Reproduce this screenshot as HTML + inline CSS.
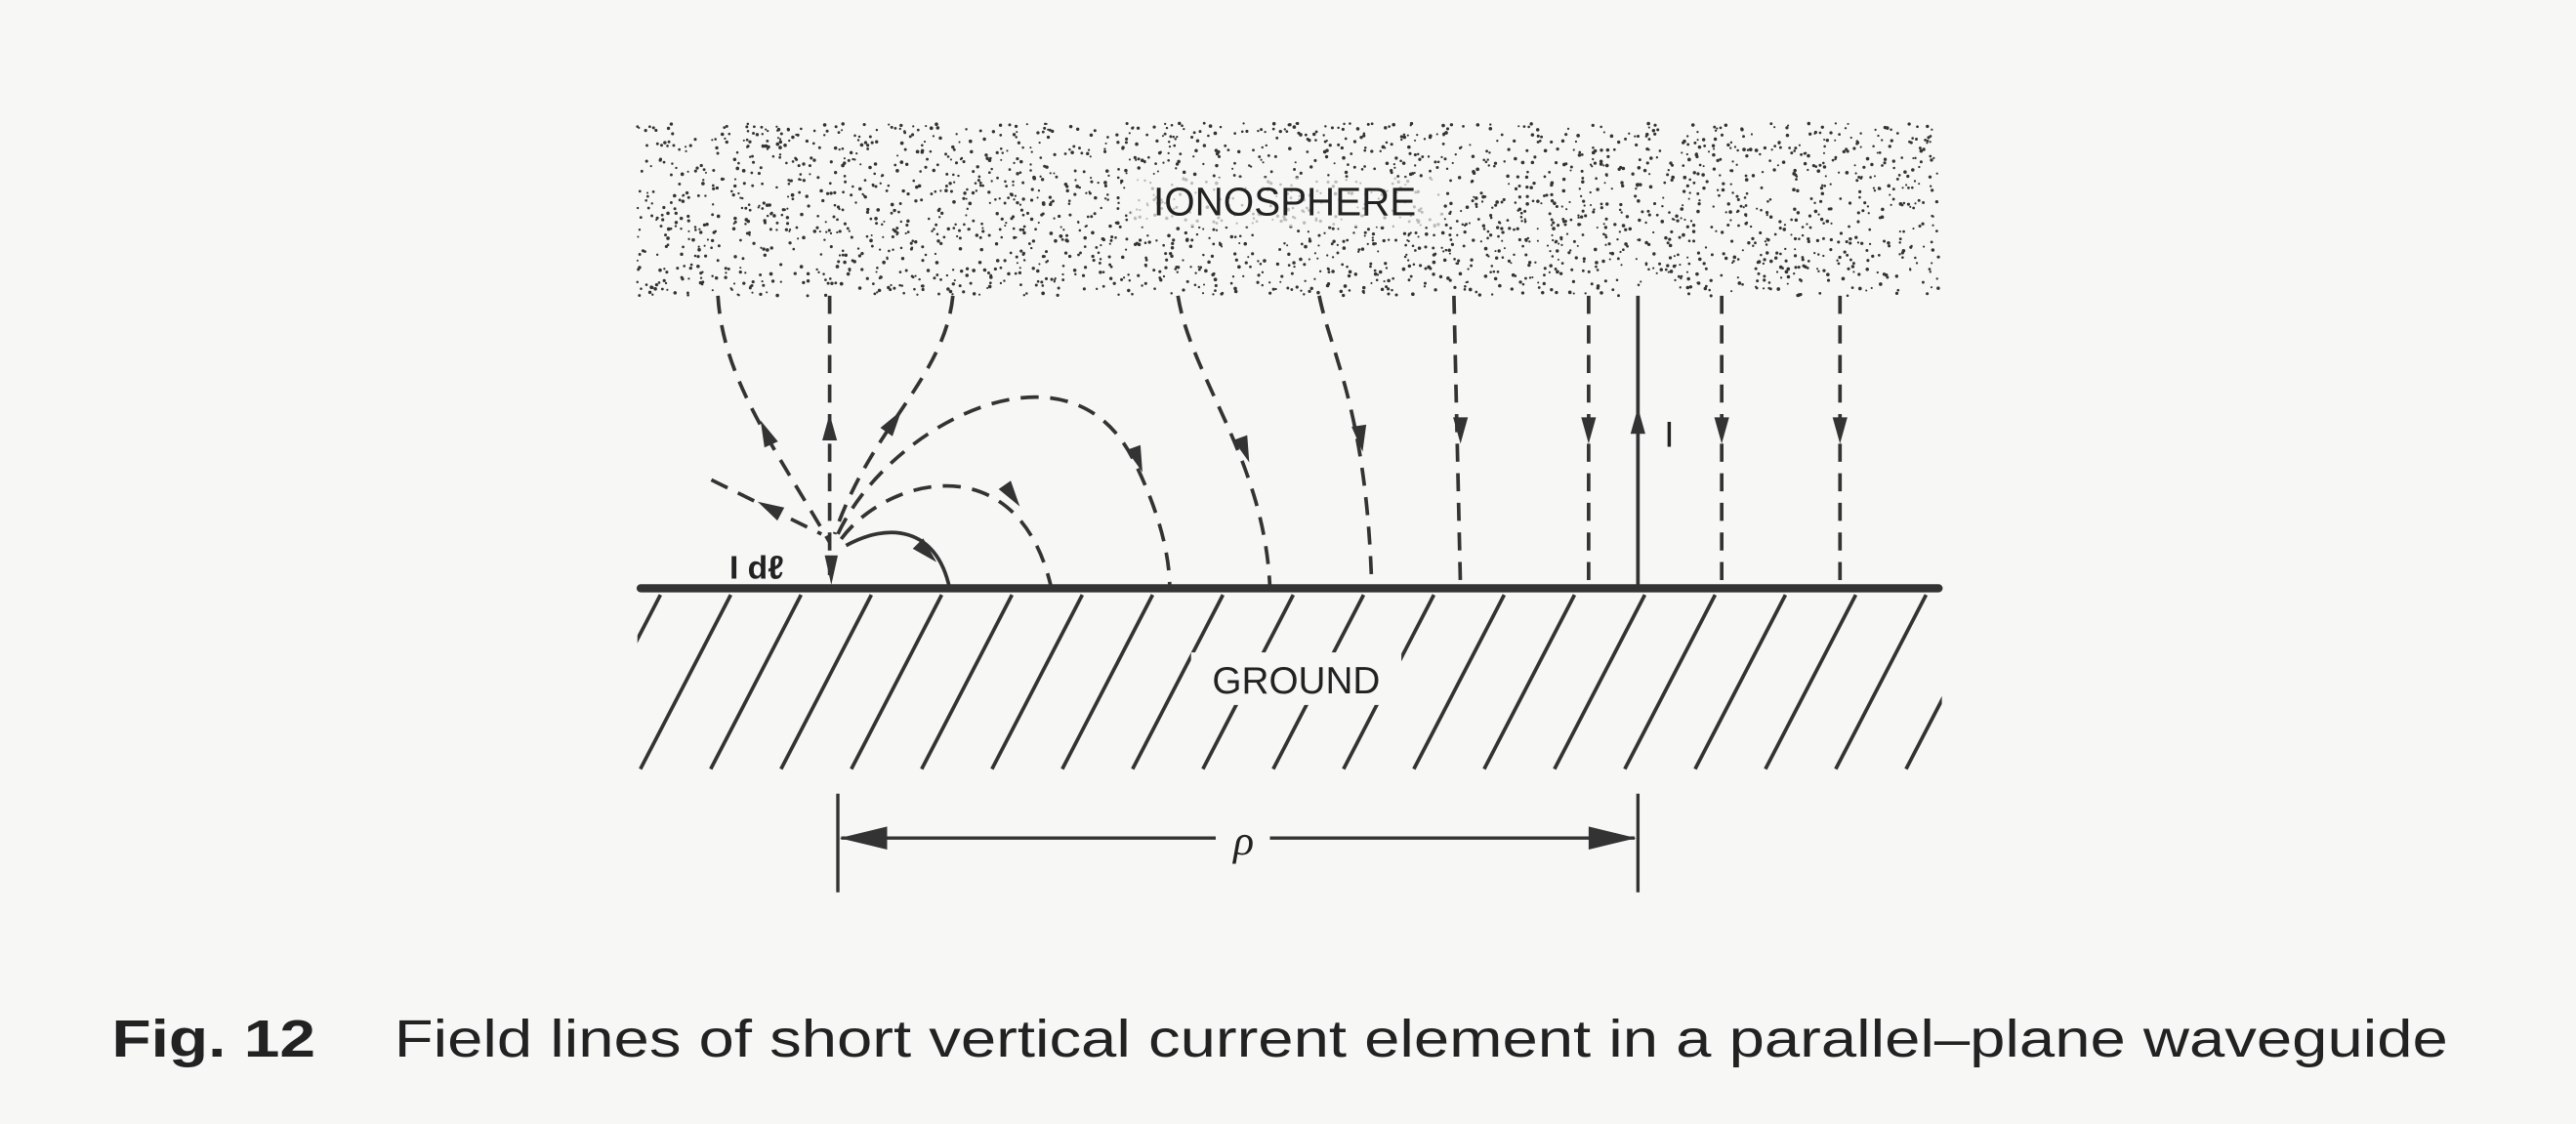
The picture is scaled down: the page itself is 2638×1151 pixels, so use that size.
<!DOCTYPE html>
<html><head><meta charset="utf-8"><style>
html,body{margin:0;padding:0;background:#f7f7f5;}
svg{display:block}
</style></head><body>
<svg id="s" width="2638" height="1151" viewBox="0 0 1568 684" preserveAspectRatio="none" xmlns="http://www.w3.org/2000/svg">
<defs><clipPath id="hc"><rect x="388" y="360" width="794" height="112"/></clipPath></defs>
<rect width="1568" height="684" fill="#f7f7f5"/>
<g id="dots" fill="#333"></g>
<rect x="688" y="108" width="190" height="30" fill="#f7f7f5" opacity="0.7"/>
<text x="782" y="131" font-family="Liberation Sans, sans-serif" font-size="24" text-anchor="middle" fill="#222">IONOSPHERE</text>
<g stroke="#333" stroke-width="2.2" fill="none" stroke-dasharray="11,7">
<path d="M437,180 C440,230 470,270 505,330"/>
<path d="M505,180 L505,350"/>
<path d="M580,180 C575,230 530,260 508,325"/>
<path d="M510,325 C540,260 650,200 690,280 C700,300 712,330 712,358"/>
<path d="M512,328 C540,290 620,270 640,358"/>
<path d="M433,292 L500,325"/>
<path d="M717,180 C725,230 770,280 773,358"/>
<path d="M803,180 C810,215 832,250 835,358"/>
<path d="M885,180 L889,358"/>
<path d="M967,180 L967,358"/>
<path d="M1048,180 L1048,358"/>
<path d="M1120,180 L1120,358"/>
</g>
<path d="M515,332 C540,318 570,320 578,358" stroke="#333" stroke-width="2.2" fill="none"/>
<line x1="997" y1="180" x2="997" y2="358" stroke="#333" stroke-width="2.2"/>
<g fill="#333">
<g transform="translate(467,265) rotate(-24)"><polygon points="0,-10 4.5,6 -4.5,6"/></g>
<g transform="translate(505,262)"><polygon points="0,-10 4.5,6 -4.5,6"/></g>
<g transform="translate(543,258) rotate(35)"><polygon points="0,-10 4.5,6 -4.5,6"/></g>
<g transform="translate(692,278) rotate(160)"><polygon points="0,-10 4.5,6 -4.5,6"/></g>
<g transform="translate(615,300) rotate(145)"><polygon points="0,-10 4.5,6 -4.5,6"/></g>
<g transform="translate(563,335) rotate(135)"><polygon points="0,-10 4.5,6 -4.5,6"/></g>
<g transform="translate(470,310) rotate(-62)"><polygon points="0,-10 4.5,6 -4.5,6"/></g>
<g transform="translate(757,272) rotate(160)"><polygon points="0,-10 4.5,6 -4.5,6"/></g>
<g transform="translate(828,265) rotate(172)"><polygon points="0,-10 4.5,6 -4.5,6"/></g>
<g transform="translate(889,260) rotate(180)"><polygon points="0,-10 4.5,6 -4.5,6"/></g>
<g transform="translate(967,260) rotate(180)"><polygon points="0,-10 4.5,6 -4.5,6"/></g>
<g transform="translate(1048,260) rotate(180)"><polygon points="0,-10 4.5,6 -4.5,6"/></g>
<g transform="translate(1120,260) rotate(180)"><polygon points="0,-10 4.5,6 -4.5,6"/></g>
<g transform="translate(997,258)"><polygon points="0,-10 4.5,6 -4.5,6"/></g>
<polygon points="502,338 510,338 506,356"/>
</g>
<text x="1013" y="272" font-family="Liberation Sans, sans-serif" font-size="22" fill="#222">I</text>
<text x="444" y="352" font-family="Liberation Sans, sans-serif" font-size="20" font-weight="bold" fill="#222">I dℓ</text>
<line x1="390" y1="358" x2="1180" y2="358" stroke="#333" stroke-width="5" stroke-linecap="round"/>
<g id="hatch" stroke="#333" stroke-width="2.2" clip-path="url(#hc)"></g>
<rect x="725" y="397" width="128" height="32" fill="#f7f7f5"/>
<text x="789" y="422" font-family="Liberation Sans, sans-serif" font-size="23" text-anchor="middle" fill="#222">GROUND</text>
<g stroke="#333" stroke-width="2">
<line x1="510" y1="483" x2="510" y2="543"/>
<line x1="997" y1="483" x2="997" y2="543"/>
<line x1="512" y1="510" x2="740" y2="510"/>
<line x1="773" y1="510" x2="995" y2="510"/>
</g>
<polygon points="511,510 540,503 540,517" fill="#333"/>
<polygon points="996,510 967,503 967,517" fill="#333"/>
<text x="757" y="520" font-family="Liberation Serif, serif" font-style="italic" font-size="26" text-anchor="middle" fill="#222">ρ</text>
<text x="68" y="643" font-family="Liberation Sans, sans-serif" font-weight="bold" font-size="32" fill="#222" textLength="124" lengthAdjust="spacingAndGlyphs">Fig. 12</text>
<text x="240" y="643" font-family="Liberation Sans, sans-serif" font-size="32" fill="#222" textLength="1250" lengthAdjust="spacingAndGlyphs">Field lines of short vertical current element in a parallel–plane waveguide</text>
</svg>
<script>
var d=document.getElementById("dots"),seed=7;
function r(){seed=(seed*16807)%2147483647;return seed/2147483647;}
var h="";
for(var i=0;i<2600;i++){var x=388+r()*792,y=75+r()*105;h+='<circle cx="'+x.toFixed(1)+'" cy="'+y.toFixed(1)+'" r="'+(0.6+r()*0.5).toFixed(2)+'"/>';}
d.innerHTML=h;
var g=document.getElementById("hatch"),s="";
for(var b=347;b<=1210;b+=42.8){s+='<line x1="'+(b+55)+'" y1="362" x2="'+b+'" y2="468"/>';}
g.innerHTML=s;
</script>
</body></html>
